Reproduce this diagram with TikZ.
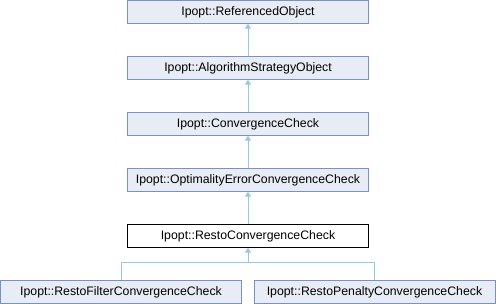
\documentclass[tikz,border=0pt]{standalone}
\usepackage{fontspec}
\setmainfont{Liberation Sans}
\usetikzlibrary{arrows.meta}
\definecolor{boxfill}{RGB}{232,236,244}
\definecolor{boxdraw}{RGB}{120,145,200}
\definecolor{edgecol}{RGB}{150,200,230}
\begin{document}
\begin{tikzpicture}[x=1pt,y=-1pt,
  cls/.style={draw=boxdraw,fill=boxfill,line width=1pt,minimum width=241pt,minimum height=22.5pt,inner sep=0pt,font=\fontsize{12.3}{14}\selectfont},
  cur/.style={draw=black,fill=white,line width=1pt,minimum width=241pt,minimum height=22.5pt,inner sep=0pt,font=\fontsize{12.3}{14}\selectfont},
  edge/.style={draw=edgecol,line width=1pt},
  arr/.style={-{Triangle[length=5pt,width=6pt,fill=edgecol]}}]
\useasboundingbox (0,0) rectangle (496,304);
\node[cls] (ro) at (248,12) {Ipopt::ReferencedObject};
\node[cls] (aso) at (248,68) {Ipopt::AlgorithmStrategyObject};
\node[cls] (cc) at (248,124) {Ipopt::ConvergenceCheck};
\node[cls] (oecc) at (248,180) {Ipopt::OptimalityErrorConvergenceCheck};
\node[cur] (rcc) at (248,236) {Ipopt::RestoConvergenceCheck};
\node[cls] (rfcc) at (121,292) {Ipopt::RestoFilterConvergenceCheck};
\node[cls] (rpcc) at (374.5,292) {Ipopt::RestoPenaltyConvergenceCheck};
\coordinate (j) at (248,263);
\draw[edge,arr] (aso.north) -- (ro.south);
\draw[edge,arr] (cc.north) -- (aso.south);
\draw[edge,arr] (oecc.north) -- (cc.south);
\draw[edge,arr] (rcc.north) -- (oecc.south);
\draw[edge] (rfcc.north) |- (j);
\draw[edge] (rpcc.north) |- (j);
\draw[edge,arr] (j) -- (rcc.south);
\end{tikzpicture}
\end{document}
